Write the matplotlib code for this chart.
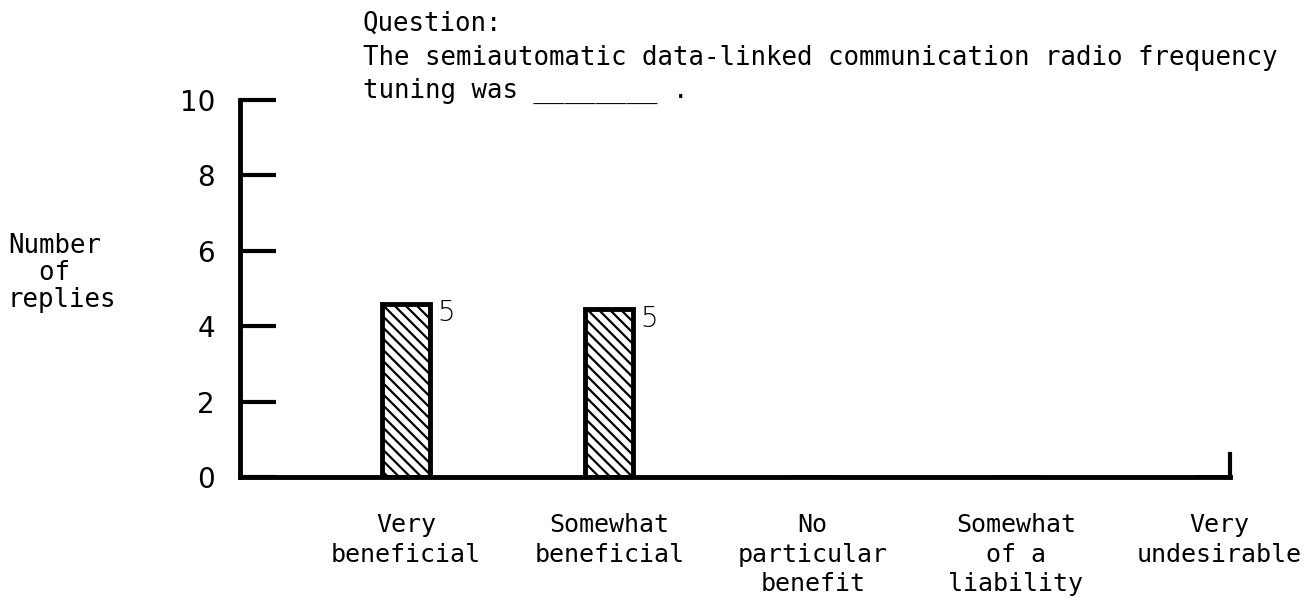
import matplotlib
matplotlib.use("Agg")
import matplotlib.pyplot as plt

# categories and replies
categories = ["Very\nbeneficial", "Somewhat\nbeneficial", "No\nparticular\nbenefit",
              "Somewhat\nof a\nliability", "Very\nundesirable"]
reply_counts = [5, 5, 0, 0, 0]          # numbers written next to the bars
bar_heights = [4.6, 4.45, 0, 0, 0]      # heights as drawn in the original
y_ticks = [0, 2, 4, 6, 8, 10]
question = ("Question:\n"
            "The semiautomatic data-linked communication radio frequency\n"
            "tuning was ________ .")

plt.rcParams['font.family'] = ['DejaVu Sans']
plt.rcParams['hatch.linewidth'] = 1.6
mono = 'DejaVu Sans Mono'

fig = plt.figure(figsize=(13.15, 6.07), dpi=100)
ax = fig.add_axes([240 / 1315, 130 / 607, 990 / 1315, 377 / 607])

x = list(range(len(categories)))
ax.bar(x, bar_heights, width=0.236, facecolor='white', edgecolor='black',
       linewidth=3.5, hatch='\\\\\\')

# reply counts beside the bars
for xi, h, n in zip(x, bar_heights, reply_counts):
    if n > 0:
        ax.annotate(str(n), xy=(xi + 0.118, h), xytext=(5, 3),
                    textcoords='offset points', ha='left', va='top',
                    fontsize=20, fontweight='light')

ax.set_xlim(-0.817, 4.053)
ax.set_ylim(0, 10)

ax.spines['top'].set_visible(False)
ax.spines['left'].set_linewidth(3.5)
ax.spines['bottom'].set_linewidth(3.5)
ax.spines['right'].set_linewidth(3)
ax.spines['right'].set_bounds(0, 0.6)

ax.set_yticks(y_ticks)
ax.set_yticklabels([str(t) for t in y_ticks])
ax.tick_params(axis='y', direction='in', length=26, width=3, pad=18,
               labelsize=20)
ax.set_xticks([])

# category labels under the axis
for xi, lab in zip(x, categories):
    ax.text(xi, -0.95, lab, ha='center', va='top', fontsize=18,
            family=mono, linespacing=1.3, clip_on=False)

fig.text(8 / 1315, 1 - 233 / 607, "Number\n  of\nreplies", ha='left', va='top',
         fontsize=18.5, family=mono, linespacing=1.05)

fig.text(363 / 1315, 1 - 11 / 607, question, ha='left', va='top',
         fontsize=18.5, family=mono, linespacing=1.38)

fig.savefig("out.png", dpi=100)
